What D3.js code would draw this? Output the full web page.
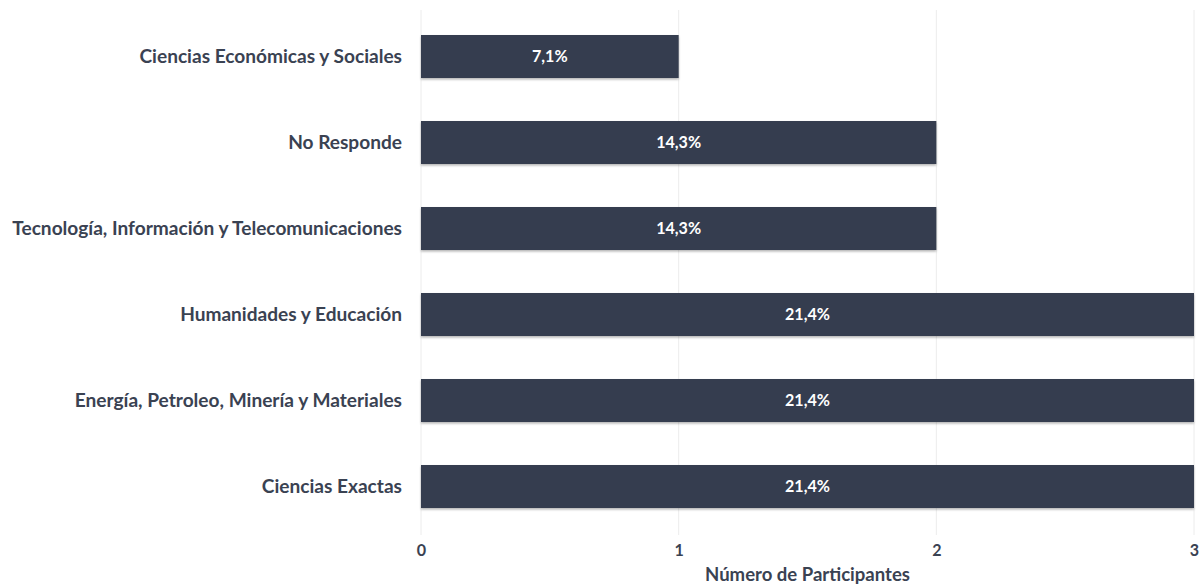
<!DOCTYPE html>
<html>
<head>
<meta charset="utf-8">
<script src="https://cdn.jsdelivr.net/npm/d3@7/dist/d3.min.js"></script>
<style>
  html, body { margin: 0; padding: 0; background: #fff; }
  svg { display: block; font-family: Lato, "Open Sans", sans-serif; }
</style>
</head>
<body>
<svg id="chart" width="1201" height="586"></svg>
<script>
// Áreas de conocimiento (de arriba hacia abajo)
const categories = [
  "Ciencias Económicas y Sociales",
  "No Responde",
  "Tecnología, Información y Telecomunicaciones",
  "Humanidades y Educación",
  "Energía, Petroleo, Minería y Materiales",
  "Ciencias Exactas"
];
const participants = [1, 2, 2, 3, 3, 3];
const percentLabels = ["7,1%", "14,3%", "14,3%", "21,4%", "21,4%", "21,4%"];
const xTicks = [0, 1, 2, 3];
const xTitle = "Número de Participantes";

const svg = d3.select("#chart");
const margin = { left: 421, right: 7, top: 13.5, bottom: 56.5 };
const W = 1201, H = 586;

const x = d3.scaleLinear().domain([0, 3]).range([margin.left, W - margin.right]);
const y = d3.scaleBand().domain(categories).range([margin.top, H - margin.bottom]).paddingInner(0.5).paddingOuter(0.25);

const textColor = "#3a4252";
const barColor = "#343e50";

// tamaño de fuente para que un texto ocupe un ancho dado
function fitSize(str, width, weight) {
  const t = svg.append("text").attr("font-weight", weight).attr("font-size", 100).text(str);
  const w = t.node().getComputedTextLength();
  t.remove();
  return 100 * width / w;
}
const labelSize = fitSize("Tecnología, Información y Telecomunicaciones", 390, 700);
const valueSize = fitSize("21,4%", 45, 700);
const titleSize = fitSize(xTitle, 205, 700);

// sombra suave bajo las barras
const defs = svg.append("defs");
const f = defs.append("filter").attr("id", "shadow").attr("x", "-5%").attr("y", "-20%").attr("width", "110%").attr("height", "150%");
f.append("feDropShadow").attr("dx", 0).attr("dy", 1.5).attr("stdDeviation", 1.2).attr("flood-color", "#000").attr("flood-opacity", 0.3);

// líneas de cuadrícula
svg.append("g").selectAll("line").data(xTicks).join("line")
  .attr("x1", d => x(d)).attr("x2", d => x(d))
  .attr("y1", 10).attr("y2", 535)
  .attr("stroke", "#ececec").attr("stroke-width", 1);

// barras
svg.append("g").selectAll("rect").data(categories).join("rect")
  .attr("x", x(0))
  .attr("y", d => y(d))
  .attr("width", (d, i) => x(participants[i]) - x(0))
  .attr("height", y.bandwidth())
  .attr("fill", barColor)
  .attr("filter", "url(#shadow)");

// etiquetas de porcentaje
svg.append("g").selectAll("text").data(categories).join("text")
  .attr("x", (d, i) => (x(0) + x(participants[i])) / 2)
  .attr("y", d => y(d) + y.bandwidth() / 2)
  .attr("dy", "0.35em")
  .attr("text-anchor", "middle")
  .attr("fill", "#fff")
  .attr("font-weight", 700)
  .attr("font-size", valueSize)
  .text((d, i) => percentLabels[i]);

// etiquetas de categoría
svg.append("g").selectAll("text").data(categories).join("text")
  .attr("x", 402)
  .attr("y", d => y(d) + y.bandwidth() / 2)
  .attr("dy", "0.35em")
  .attr("text-anchor", "end")
  .attr("fill", textColor)
  .attr("font-weight", 700)
  .attr("font-size", labelSize)
  .text(d => d);

// eje x
const xAxis = d3.axisBottom(x).tickValues(xTicks).tickSize(0).tickPadding(0).tickFormat(d3.format("d"));
const gx = svg.append("g").attr("transform", "translate(0,556)").call(xAxis);
gx.select(".domain").remove();
gx.attr("font-family", null).attr("font-size", null);
gx.selectAll("text")
  .attr("dy", null)
  .attr("fill", textColor)
  .attr("font-weight", 700)
  .attr("font-size", valueSize);

svg.append("text")
  .attr("x", (x(0) + x(3)) / 2)
  .attr("y", 581)
  .attr("text-anchor", "middle")
  .attr("fill", textColor)
  .attr("font-weight", 700)
  .attr("font-size", titleSize)
  .text(xTitle);
</script>
</body>
</html>
